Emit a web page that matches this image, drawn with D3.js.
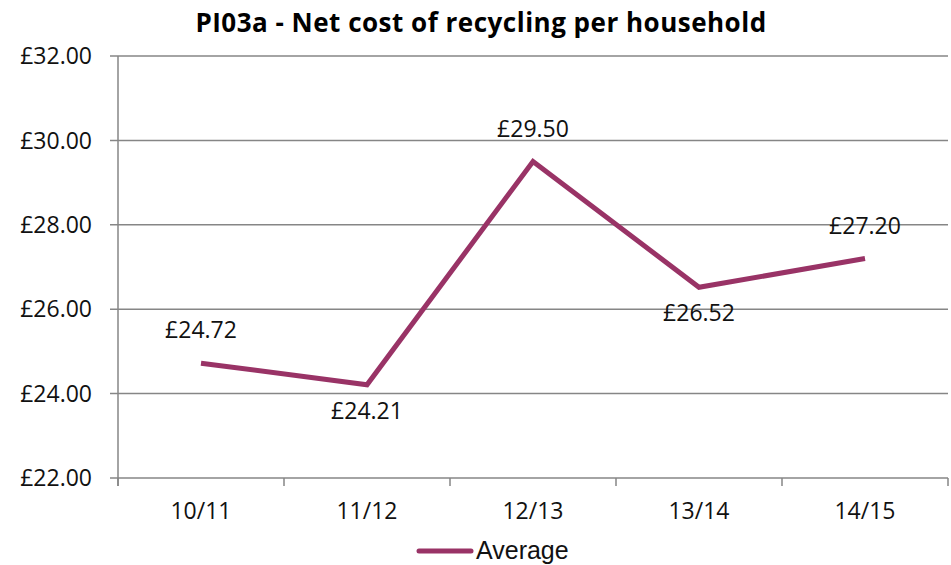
<!DOCTYPE html>
<html>
<head>
<meta charset="utf-8">
<script src="https://cdn.jsdelivr.net/npm/d3@7"></script>
<style>
  body { margin: 0; background: #fff; }
  svg { display: block; }
</style>
</head>
<body>
<div id="chart"></div>
<script>
// Dados do gráfico
const years = ['10/11', '11/12', '12/13', '13/14', '14/15'];
const average = [24.72, 24.21, 29.50, 26.52, 27.20];
const yTicks = [22, 24, 26, 28, 30, 32];
// posição do rótulo: acima ou abaixo do ponto
const labelAbove = [true, false, true, false, true];

const W = 951, H = 565;
const margin = { top: 56, right: 3, bottom: 87, left: 118 };
const lineColor = '#993366';
const gridColor = '#868686';

const svg = d3.select('#chart').append('svg')
  .attr('width', W).attr('height', H);

const x = d3.scaleBand().domain(years).range([margin.left, W - margin.right]);
const y = d3.scaleLinear().domain([22, 32]).range([H - margin.bottom, margin.top]);

// Título
svg.append('text')
  .attr('x', 481).attr('y', 32)
  .attr('text-anchor', 'middle')
  .style('font-family', '"Open Sans", sans-serif')
  .style('font-weight', 'bold')
  .style('font-size', '26px')
  .style('letter-spacing', '0.5px')
  .text('PI03a - Net cost of recycling per household');

// Grid horizontal
svg.append('g').selectAll('line')
  .data(yTicks).enter().append('line')
  .attr('x1', margin.left - 8).attr('x2', W - margin.right)
  .attr('y1', d => y(d)).attr('y2', d => y(d))
  .style('stroke', gridColor).style('stroke-width', 1.5);

// Eixo vertical
svg.append('line')
  .attr('x1', margin.left).attr('x2', margin.left)
  .attr('y1', y(32)).attr('y2', y(22) + 8)
  .style('stroke', gridColor).style('stroke-width', 1.5);

// Ticks do eixo x (limites das categorias)
const bounds = years.map(d => x(d)).concat([x(years[years.length - 1]) + x.bandwidth()]);
svg.append('g').selectAll('line')
  .data(bounds).enter().append('line')
  .attr('x1', d => d).attr('x2', d => d)
  .attr('y1', y(22)).attr('y2', y(22) + 8)
  .style('stroke', gridColor).style('stroke-width', 1.5);

const fmt = d => '£' + d3.format('.2f')(d);
const labelFont = '"Open Sans", sans-serif';

// Rótulos eixo y
svg.append('g').selectAll('text')
  .data(yTicks).enter().append('text')
  .attr('x', 92).attr('y', d => y(d))
  .attr('dy', '0.36em')
  .attr('text-anchor', 'end')
  .style('font-family', labelFont)
  .style('font-size', '23px')
  .style('fill', '#111')
  .text(fmt);

// Rótulos eixo x
svg.append('g').selectAll('text')
  .data(years).enter().append('text')
  .attr('x', d => x(d) + x.bandwidth() / 2)
  .attr('y', y(22) + 41)
  .attr('text-anchor', 'middle')
  .style('font-family', labelFont)
  .style('font-size', '23px')
  .style('fill', '#111')
  .text(d => d);

// Linha da série
const line = d3.line()
  .x((d, i) => x(years[i]) + x.bandwidth() / 2)
  .y(d => y(d));

svg.append('path')
  .attr('d', line(average))
  .style('fill', 'none')
  .style('stroke', lineColor)
  .style('stroke-width', 5)
  .style('stroke-linejoin', 'miter');

// Rótulos de dados
svg.append('g').selectAll('text')
  .data(average).enter().append('text')
  .attr('x', (d, i) => x(years[i]) + x.bandwidth() / 2)
  .attr('y', (d, i) => labelAbove[i] ? y(d) - 25 : y(d) + 34)
  .attr('text-anchor', 'middle')
  .style('font-family', labelFont)
  .style('font-size', '23px')
  .style('fill', '#111')
  .text(fmt);

// Legenda
const legend = svg.append('g');
legend.append('line')
  .attr('x1', 419).attr('x2', 471)
  .attr('y1', 551).attr('y2', 551)
  .style('stroke', lineColor)
  .style('stroke-width', 5)
  .style('stroke-linecap', 'round');
legend.append('text')
  .attr('x', 476).attr('y', 559)
  .style('font-family', '"Liberation Sans", Arial, sans-serif')
  .style('font-size', '25px')
  .style('fill', '#111')
  .text('Average');
</script>
</body>
</html>
